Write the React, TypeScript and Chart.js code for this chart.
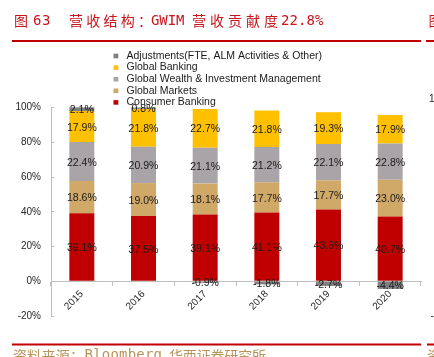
import React, { useEffect, useRef } from 'react';
import { Chart, registerables } from 'chart.js';

Chart.register(...registerables);

// ---------- data ----------
const years = ['2015', '2016', '2017', '2018', '2019', '2020'];

const seriesNames = [
  'Consumer Banking',
  'Global Markets',
  'Global Wealth & Investment Management',
  'Global Banking',
  'Adjustments(FTE, ALM Activities & Other)',
];

// bar heights (share of revenue, %)
const consumerBanking = [39.1, 37.5, 38.4, 39.6, 41.3, 37.3];
const globalMarkets = [18.6, 19.0, 17.8, 17.3, 16.8, 21.1];
const gwim = [22.4, 20.9, 20.7, 20.4, 20.9, 20.9];
const globalBanking = [17.9, 21.8, 22.3, 21.0, 18.3, 16.4];
const adjustments = [2.1, 0.8, -0.9, -1.8, -2.7, -4.4];

// data-label texts printed on the segments (%)
const consumerBankingLabels = [39.1, 37.5, 39.1, 41.1, 43.6, 40.7];
const globalMarketsLabels = [18.6, 19.0, 18.1, 17.7, 17.7, 23.0];
const gwimLabels = [22.4, 20.9, 21.1, 21.2, 22.1, 22.8];
const globalBankingLabels = [17.9, 21.8, 22.7, 21.8, 19.3, 17.9];
const adjustmentsLabels = [2.1, 0.8, -0.9, -1.8, -2.7, -4.4];

const yTicks = [-20, 0, 20, 40, 60, 80, 100];

const seriesColors = ['#C00000', '#D0A868', '#A9A4A8', '#FFC000', '#7F7F7F'];

const seriesValues = [consumerBanking, globalMarkets, gwim, globalBanking, adjustments];
const seriesLabels = [
  consumerBankingLabels,
  globalMarketsLabels,
  gwimLabels,
  globalBankingLabels,
  adjustmentsLabels,
];

const FONT = '"Liberation Sans", Arial, sans-serif';
const CJK = '"Noto Sans CJK SC", sans-serif';
const MONO = '"DejaVu Sans Mono", monospace';

const dataLabelPlugin = {
  id: 'segLabels',
  afterDatasetsDraw(chart: any) {
    const ctx = chart.ctx;
    ctx.save();
    ctx.font = `10.5px ${FONT}`;
    ctx.fillStyle = '#1a1a1a';
    ctx.textAlign = 'center';
    ctx.textBaseline = 'middle';
    chart.data.datasets.forEach((ds: any, i: number) => {
      const meta = chart.getDatasetMeta(i);
      meta.data.forEach((el: any, j: number) => {
        const p = el.getProps(['x', 'y', 'base'], true);
        const cy = (p.y + p.base) / 2;
        const v = seriesLabels[i][j];
        ctx.fillText(v.toFixed(1) + '%', p.x, cy + 1.2);
      });
    });
    ctx.restore();
  },
};

const legendPlugin = {
  id: 'sideLegend',
  afterDraw(chart: any) {
    const ctx = chart.ctx;
    const ds = chart.data.datasets;
    ctx.save();
    ctx.font = `10.5px ${FONT}`;
    ctx.textBaseline = 'middle';
    ctx.textAlign = 'left';
    for (let k = 0; k < ds.length; k++) {
      const d = ds[ds.length - 1 - k];
      const y = 56 + k * 11.6;
      ctx.fillStyle = d.backgroundColor;
      ctx.fillRect(113.5, y - 2.3, 4.8, 4.6);
      ctx.fillStyle = '#1a1a1a';
      ctx.fillText(d.label, 126.5, y);
    }
    ctx.restore();
  },
};

// draw a text so that its span from x0 to x1 is filled (adjusting letter spacing)
function fitText(ctx: any, t: string, x0: number, x1: number, y: number, font: string) {
  ctx.font = font;
  ctx.letterSpacing = '0px';
  const w = ctx.measureText(t).width;
  const n = Array.from(t).length;
  const ls = n > 1 ? (x1 - x0 - w) / (n - 1) : 0;
  ctx.letterSpacing = ls + 'px';
  ctx.fillText(t, x0, y);
  ctx.letterSpacing = '0px';
}

const framePlugin = {
  id: 'frame',
  afterDraw(chart: any) {
    const ctx = chart.ctx;
    ctx.save();
    // red rules
    ctx.fillStyle = '#C00000';
    ctx.fillRect(12, 40, 409, 2);
    ctx.fillRect(426, 40, 8, 2);
    ctx.fillRect(12, 343.5, 409, 2);
    ctx.fillRect(427, 343.5, 7, 2);
    // title
    const cj = `14px ${CJK}`;
    const mo = `14px ${MONO}`;
    ctx.fillStyle = '#C8161D';
    ctx.textBaseline = 'middle';
    ctx.textAlign = 'left';
    fitText(ctx, '图', 14, 28, 21, cj);
    fitText(ctx, '63', 33, 50.5, 21, mo);
    fitText(ctx, '营收结构：', 69, 152, 21, cj);
    fitText(ctx, 'GWIM', 151, 184.5, 21, mo);
    fitText(ctx, '营收贡献度', 192, 278, 21, cj);
    fitText(ctx, '22.8%', 281, 323.5, 21, mo);
    fitText(ctx, '图', 428.5, 442, 21, cj);
    // source
    ctx.fillStyle = '#B8935A';
    fitText(ctx, '资料来源：', 13, 84, 355.5, cj);
    fitText(ctx, 'Bloomberg', 84.5, 162, 355.5, mo);
    fitText(ctx, '，', 162.5, 172, 355.5, cj);
    fitText(ctx, '华西证券研究所', 169, 266, 355.5, cj);
    fitText(ctx, '资', 427, 441, 355.5, cj);
    // fragments of the neighbouring chart
    ctx.fillStyle = '#262626';
    ctx.font = `10px ${FONT}`;
    ctx.fillText('1', 429, 99);
    ctx.fillText('-', 430.5, 316);
    ctx.restore();
  },
};

export default function App() {
  const ref = useRef<HTMLCanvasElement>(null);

  useEffect(() => {
    const prev = document.body.style.margin;
    document.body.style.margin = '0';
    const chart = new Chart(ref.current as HTMLCanvasElement, {
      type: 'bar',
      data: {
        labels: years,
        datasets: seriesValues.map((v, i) => ({
          label: seriesNames[i],
          data: v,
          backgroundColor: seriesColors[i],
          borderWidth: 0,
          clip: false as any,
          categoryPercentage: 0.81,
          barPercentage: 0.5,
        })),
      },
      options: {
        responsive: false,
        animation: false,
        devicePixelRatio: 1,
        layout: { padding: { left: 0, right: 13, top: 107.5, bottom: 41 } },
        plugins: {
          legend: { display: false },
          tooltip: { enabled: false },
          title: { display: false },
        },
        scales: {
          x: {
            stacked: true,
            position: { y: 0 } as any,
            grid: {
              display: true,
              drawOnChartArea: false,
              drawTicks: true,
              tickLength: 4,
              color: '#BFBFBF',
              offset: true,
            },
            border: { display: true, color: '#BFBFBF', width: 1 },
            ticks: {
              minRotation: 45,
              maxRotation: 45,
              autoSkip: false,
              padding: 3,
              labelOffset: 0,
              color: '#262626',
              font: { size: 10, family: FONT },
            },
          },
          y: {
            stacked: true,
            min: yTicks[0],
            max: yTicks[yTicks.length - 1],
            afterBuildTicks: (s: any) => {
              s.ticks = yTicks.map((v) => ({ value: v }));
            },
            ticks: {
              stepSize: 20,
              padding: 13,
              color: '#262626',
              font: { size: 10, family: FONT },
              callback: (v: any) => v + '%',
            },
            grid: {
              display: true,
              drawOnChartArea: false,
              drawTicks: true,
              tickLength: -3,
              color: '#BFBFBF',
            },
            border: { display: true, color: '#BFBFBF', width: 1 },
            afterFit: (s: any) => {
              s.width = 51;
            },
          },
        },
      },
      plugins: [dataLabelPlugin, legendPlugin, framePlugin],
    });
    return () => {
      chart.destroy();
      document.body.style.margin = prev;
    };
  }, []);

  return (
    <div style={{ position: 'fixed', left: 0, top: 0, width: 434, height: 357, background: '#fff' }}>
      <canvas ref={ref} width={434} height={357} style={{ display: 'block', width: 434, height: 357 }} />
    </div>
  );
}
